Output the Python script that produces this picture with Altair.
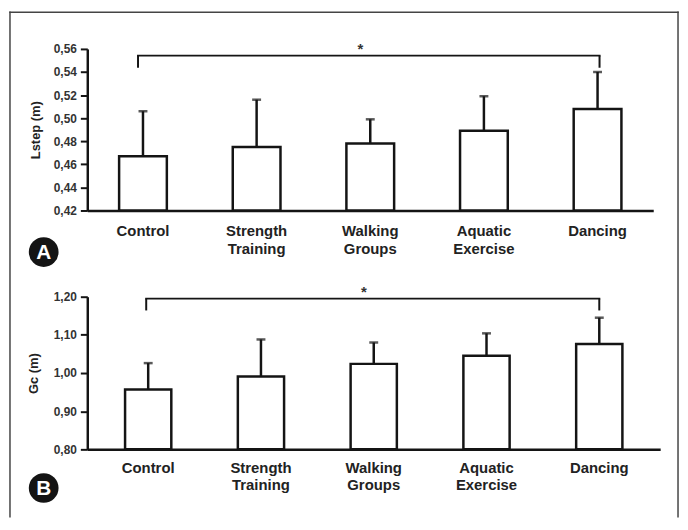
import altair as alt
import pandas as pd

categories = ["Control", "Strength Training", "Walking Groups", "Aquatic Exercise", "Dancing"]

lstep_mean = [0.467, 0.475, 0.478, 0.489, 0.508]
lstep_sd = [0.039, 0.041, 0.021, 0.030, 0.032]
lstep_ticks = [0.42, 0.44, 0.46, 0.48, 0.50, 0.52, 0.54, 0.56]

gc_mean = [0.957, 0.991, 1.024, 1.045, 1.076]
gc_sd = [0.069, 0.097, 0.056, 0.059, 0.069]
gc_ticks = [0.80, 0.90, 1.00, 1.10, 1.20]

# significance bracket: [left group, right group, bar level, leg bottom, star level]
bracket_a = ["Control", "Dancing", 0.5542, 0.5437, 0.5643]
bracket_b = ["Control", "Dancing", 1.195, 1.164, 1.226]

INK = "#141414"
FONT = "Liberation Sans"


def panel(mean, sd, ticks, ytitle, bracket, letter, width, height,
          p_inner, p_outer, title_x, label_pad, circle_y, l_off, r_off, frame=False):
    df = pd.DataFrame({"group": categories, "mean": mean, "sd": sd})
    df["top"] = df["mean"] + df["sd"]
    lo, hi = ticks[0], ticks[-1]

    xscale = alt.Scale(domain=categories, paddingInner=p_inner, paddingOuter=p_outer)
    xaxis = alt.Axis(labelAngle=0, ticks=False, domainWidth=2.5, domainColor=INK,
                     labelFont=FONT, labelFontWeight="bold", labelFontSize=15,
                     labelColor="#222", labelPadding=label_pad, labelLineHeight=18,
                     labelExpr="split(datum.label, ' ')", grid=False, title=None)
    yscale = alt.Scale(domain=[lo, hi], zero=False, nice=False)
    yaxis = alt.Axis(values=ticks, grid=False, domainWidth=2.5, domainColor=INK,
                     tickColor=INK, tickWidth=2, tickSize=7, labelPadding=4,
                     labelOverlap=False, labelFlush=False, tickCount=len(ticks),
                     labelFont=FONT, labelFontWeight="bold", labelFontSize=12, labelColor="#333",
                     labelExpr="replace(format(datum.value, '.2f'), '.', ',')",
                     title=ytitle, titleFont=FONT, titleFontWeight="bold", titleFontSize=13,
                     titleColor="#222", titleAngle=270, titleAlign="center",
                     titleBaseline="middle", titleX=title_x, titleY=height / 2)

    def X(f):
        return alt.X(f, type="nominal", scale=xscale, axis=xaxis)

    def Y(f):
        return alt.Y(f, type="quantitative", scale=yscale, axis=yaxis)

    base = alt.Chart(df).encode(x=X("group"))
    bars = base.mark_bar(fill="white", stroke=INK, strokeWidth=2.5).encode(
        y=Y("mean"), y2=alt.datum(lo))
    err = base.mark_rule(color=INK, strokeWidth=2.5).encode(y=Y("mean"), y2="top:Q")
    cap = base.mark_tick(color=INK, size=9, thickness=2.5).encode(y=Y("top"))

    bdf = pd.DataFrame({"x1": [bracket[0]], "x2": [bracket[1]], "yb": [bracket[2]],
                        "yl": [bracket[3]], "ys": [bracket[4]], "mid": ["Walking Groups"]})
    bb = alt.Chart(bdf)
    hbar = bb.mark_rule(color=INK, strokeWidth=2, xOffset=l_off, x2Offset=r_off,
                        strokeCap="square").encode(x=X("x1"), x2="x2:N", y=Y("yb"))
    lleg = bb.mark_rule(color=INK, strokeWidth=2, xOffset=l_off).encode(
        x=X("x1"), y=Y("yb"), y2="yl:Q")
    rleg = bb.mark_rule(color=INK, strokeWidth=2, xOffset=r_off).encode(
        x=X("x2"), y=Y("yb"), y2="yl:Q")
    star = bb.mark_text(text="*", fontSize=15, fontWeight="bold", color="#333",
                        font=FONT, xOffset=-10, dy=5, baseline="middle").encode(
        x=X("mid"), y=Y("ys"))

    ldf = pd.DataFrame({"letter": [letter]})
    circ = alt.Chart(ldf).mark_point(shape="circle", filled=True, size=900, color=INK,
                                     opacity=1).encode(x=alt.value(-44), y=alt.value(circle_y))
    ltxt = alt.Chart(ldf).mark_text(fontSize=21, fontWeight="bold", color="white", font=FONT,
                                    baseline="middle", align="center", dy=1).encode(
        x=alt.value(-44), y=alt.value(circle_y), text="letter:N")

    layers = [bars, err, cap, hbar, lleg, rleg, star, circ, ltxt]
    if frame:
        fdf = pd.DataFrame({"f": [0]})
        fr = alt.Chart(fdf)
        layers += [
            fr.mark_rule(color="#444", strokeWidth=1.5, strokeCap="square").encode(
                x=alt.value(-78), y=alt.value(-37), y2=alt.value(472)),
            fr.mark_rule(color="#444", strokeWidth=1.5, strokeCap="square").encode(
                x=alt.value(-78), x2=alt.value(596), y=alt.value(-37)),
            fr.mark_rule(color="#444", strokeWidth=1.5, strokeCap="square").encode(
                x=alt.value(596), y=alt.value(-37), y2=alt.value(472)),
        ]
    return alt.layer(*layers).properties(width=width, height=height)


pa = panel(lstep_mean, lstep_sd, lstep_ticks, "Lstep (m)", bracket_a, "A", 571, 163,
           0.58, 0.28, -52, 13, 205, -5, 2, frame=True)
pb = panel(gc_mean, gc_sd, gc_ticks, "Gc (m)", bracket_b, "B", 578, 154,
           0.59, 0.335, -54, 11, 193, -2, 0)

chart = alt.vconcat(pa, pb, spacing=87, bounds="flush",
                    padding={"left": 0, "top": 0, "right": 0, "bottom": 0},
                    background="white").configure_view(stroke=None)

chart.save("out.html", embed_options={"renderer": "svg", "actions": False})
